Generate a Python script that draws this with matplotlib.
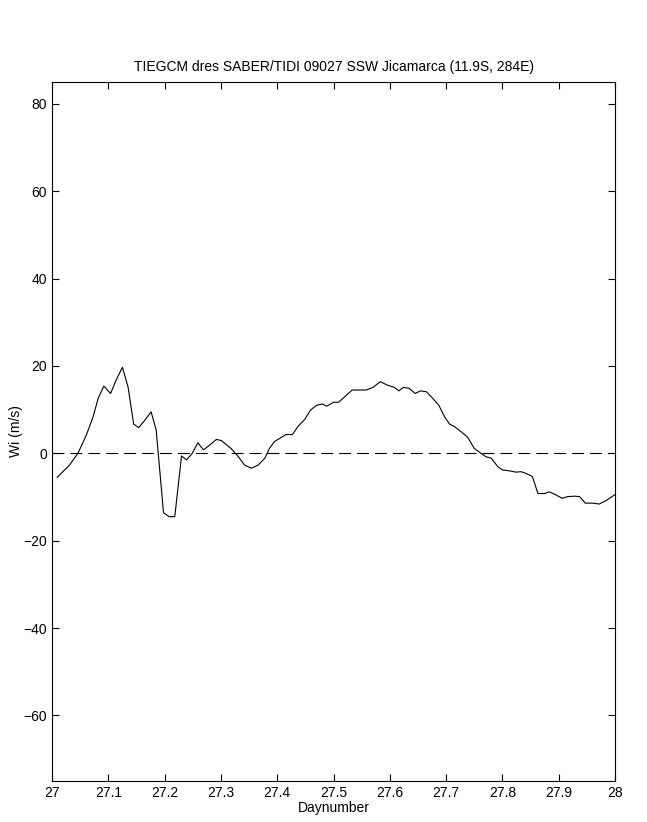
import matplotlib
matplotlib.use('Agg')
import matplotlib.pyplot as plt

plt.rcParams['font.family'] = ['Liberation Sans', 'DejaVu Sans']
plt.rcParams['lines.scale_dashes'] = False

# Day number (fractional day 27) and Wi wind (m/s)
day = [27.009, 27.031, 27.046, 27.061, 27.073, 27.082, 27.092, 27.104, 27.114, 27.125,
       27.135, 27.145, 27.154, 27.165, 27.176, 27.185, 27.198, 27.208, 27.218, 27.230,
       27.239, 27.249, 27.259, 27.269, 27.280, 27.292, 27.301, 27.318, 27.330, 27.342,
       27.354, 27.366, 27.378, 27.386, 27.395, 27.404, 27.415, 27.427, 27.437, 27.449,
       27.459, 27.470, 27.480, 27.488, 27.500, 27.509, 27.521, 27.533, 27.558, 27.570,
       27.583, 27.596, 27.608, 27.616, 27.624, 27.634, 27.645, 27.654, 27.665, 27.676,
       27.687, 27.697, 27.706, 27.715, 27.727, 27.738, 27.750, 27.762, 27.771, 27.780,
       27.792, 27.800, 27.812, 27.824, 27.833, 27.842, 27.853, 27.863, 27.875, 27.883,
       27.895, 27.906, 27.916, 27.928, 27.937, 27.947, 27.960, 27.972, 27.984, 27.999]
wi = [-5.5, -2.7, 0.0, 4.2, 8.4, 12.6, 15.4, 13.7, 16.8, 19.7,
      15.2, 6.7, 5.9, 7.6, 9.5, 5.3, -13.6, -14.5, -14.5, -0.6,
      -1.5, 0.0, 2.4, 0.8, 1.9, 3.2, 2.9, 1.1, -0.6, -2.7,
      -3.4, -2.7, -1.1, 1.1, 2.7, 3.4, 4.3, 4.3, 6.2, 7.8,
      9.9, 11.0, 11.3, 10.8, 11.7, 11.7, 13.1, 14.5, 14.5, 15.1,
      16.4, 15.6, 15.1, 14.3, 15.1, 14.9, 13.7, 14.3, 14.1, 12.6,
      11.0, 8.4, 6.7, 6.1, 4.9, 3.7, 1.1, 0.0, -0.8, -1.1,
      -3.1, -3.8, -4.0, -4.3, -4.2, -4.6, -5.3, -9.2, -9.2, -8.8,
      -9.5, -10.3, -9.9, -9.8, -9.9, -11.4, -11.4, -11.6, -10.8, -9.5]

xticks = [27, 27.1, 27.2, 27.3, 27.4, 27.5, 27.6, 27.7, 27.8, 27.9, 28]
xticklabels = ['27', '27.1', '27.2', '27.3', '27.4', '27.5', '27.6', '27.7', '27.8', '27.9', '28']
yticks = [-60, -40, -20, 0, 20, 40, 60, 80]

fig = plt.figure(figsize=(6.47, 8.22), dpi=100)
ax = fig.add_axes([0.0804, 0.0499, 0.8703, 0.8503])

ax.plot(day, wi, color='black', linewidth=0.8)
ax.plot([27, 28], [0, 0], color='black', linewidth=0.8, dashes=(8.6, 4.3))

ax.set_xlim(27, 28)
ax.set_ylim(-75, 85)
ax.set_xticks(xticks)
ax.set_xticklabels(xticklabels)
ax.set_yticks(yticks)
ax.tick_params(direction='in', top=True, right=True, length=5, width=0.8, labelsize=10)
for s in ax.spines.values():
    s.set_linewidth(0.8)

ax.set_title('TIEGCM dres SABER/TIDI 09027 SSW Jicamarca (11.9S, 284E)', fontsize=10, pad=8)
ax.set_xlabel('Daynumber', fontsize=10, labelpad=1)
ax.set_ylabel('Wi (m/s)', fontsize=10, labelpad=0)

fig.savefig('out.png', dpi=100)
